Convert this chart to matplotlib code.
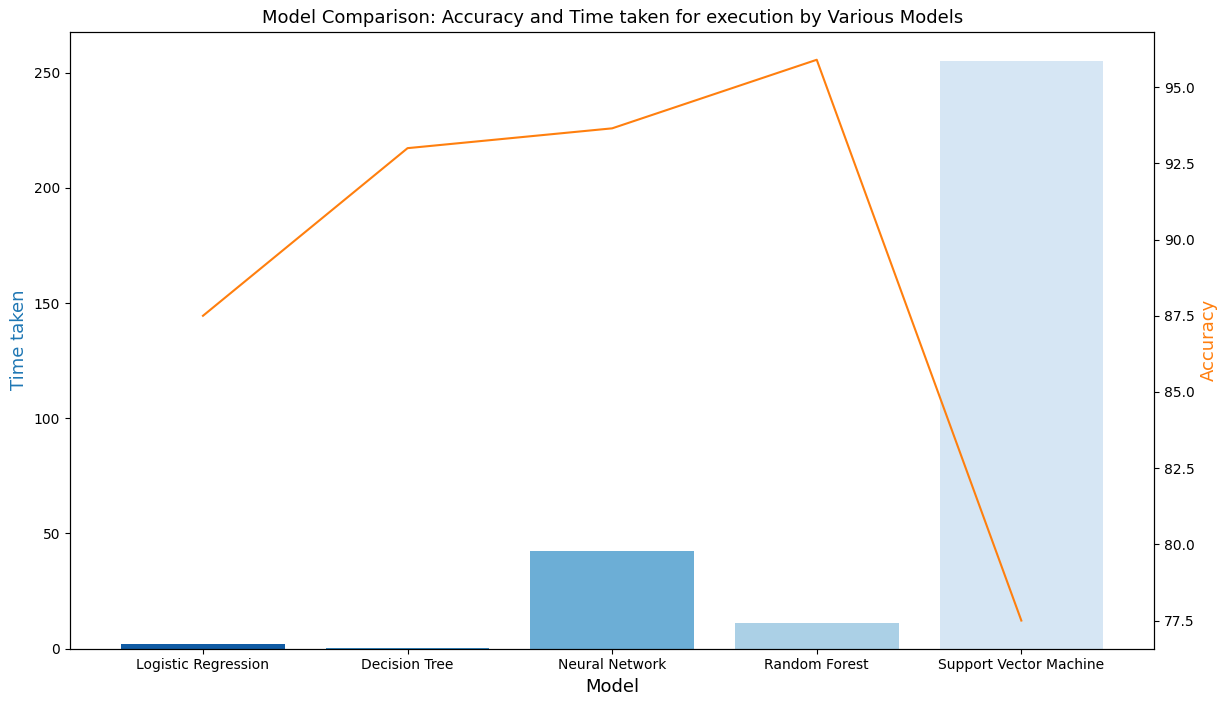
import numpy as np
import matplotlib.pyplot as plt
import seaborn as sns

# Data
models = ['Logistic Regression', 'Decision Tree', 'Neural Network', 'Random Forest', 'Support Vector Machine']
time_taken = [1.8, 0.4, 42.5, 11.0, 255.0]
accuracy = [87.5, 93.0, 93.65, 95.9, 77.5]

fig, ax1 = plt.subplots(figsize=(12.28, 7.05), dpi=100)
colors = sns.color_palette('Blues_r', len(models))
x = np.arange(len(models))
ax1.bar(x, time_taken, color=colors, width=0.8)
ax1.set_xticks(x)
ax1.set_xticklabels(models)
ax1.set_xlim(-0.65, 4.65)
ax1.set_xlabel('Model', fontsize=13)
ax1.set_ylabel('Time taken', fontsize=13, color='tab:blue')

ax2 = ax1.twinx()
ax2.plot(x, accuracy, color='tab:orange')
ax2.set_ylabel('Accuracy', fontsize=13, color='tab:orange')

plt.title('Model Comparison: Accuracy and Time taken for execution by Various Models', fontsize=13)
plt.subplots_adjust(left=0.057, right=0.94, top=0.955, bottom=0.08)
plt.savefig('out.png')
